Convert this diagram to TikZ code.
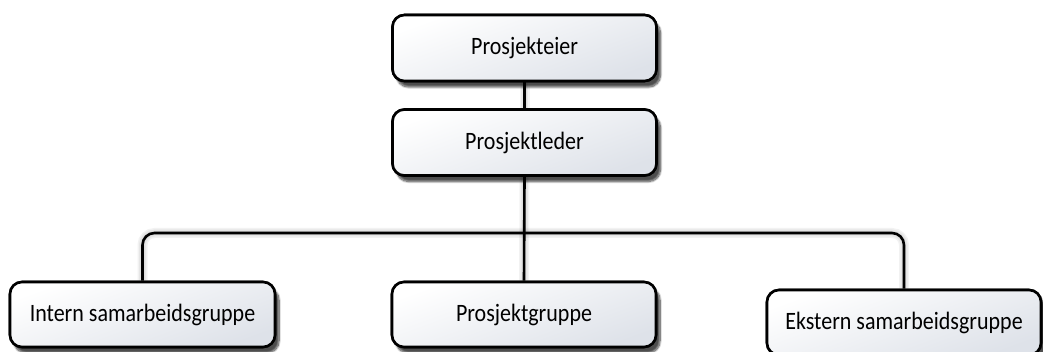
\documentclass[tikz,border=0pt]{standalone}
\usepackage{fontspec}
\setmainfont{Carlito}[FakeStretch=0.88]
\usetikzlibrary{shadows.blur}
\definecolor{boxlo}{RGB}{222,226,233}
\begin{document}
\begin{tikzpicture}[x=1pt,y=-1pt,
  box/.style={draw=black, line width=2.6pt, rounded corners=12pt,
    minimum width=264pt, minimum height=66pt, inner sep=0pt,
    top color=white, bottom color=boxlo, shading angle=20,
    font=\fontsize{25}{30}\selectfont,
    blur shadow={shadow xshift=4pt, shadow yshift=-6pt, shadow blur steps=10, shadow opacity=45}},
  link/.style={line width=2.6pt, black},
  lshadow/.style={black, opacity=0.05, shift={(3pt,6pt)}}]
\useasboundingbox (0,0) rectangle (1043,352);
\clip (0,0) rectangle (1043,352);
\node[box] (pe) at (524.5,48) {Prosjekteier};
\node[box] (pl) at (524.5,142.5) {Prosjektleder};
\node[box, minimum width=265pt, minimum height=65pt] (ig) at (142.5,314.5) {Intern samarbeidsgruppe};
\node[box, minimum height=65pt] (pg) at (524,314.5) {Prosjektgruppe};
\node[box, minimum width=274pt, minimum height=65pt] (ek) at (904,322.5) {Ekstern samarbeidsgruppe};
\coordinate (bar) at (523,233);
\foreach \w in {4,7,10}{
  \draw[lshadow, line width=\w pt] (pe.south) -- (pl.north);
  \draw[lshadow, line width=\w pt] (pl.south) -- (pg.north);
  \draw[lshadow, line width=\w pt, rounded corners=12pt] (ig.north) |- (bar) -| (ek.north);
}
\draw[link] (pe.south) -- (pl.north);
\draw[link] (pl.south) -- (pg.north);
\draw[link, rounded corners=12pt] (ig.north) |- (bar) -| (ek.north);
\node[box] at (pe) {Prosjekteier};
\node[box] at (pl) {Prosjektleder};
\node[box, minimum width=265pt, minimum height=65pt] at (ig) {Intern samarbeidsgruppe};
\node[box, minimum height=65pt] at (pg) {Prosjektgruppe};
\node[box, minimum width=274pt, minimum height=65pt] at (ek) {Ekstern samarbeidsgruppe};
\end{tikzpicture}
\end{document}
